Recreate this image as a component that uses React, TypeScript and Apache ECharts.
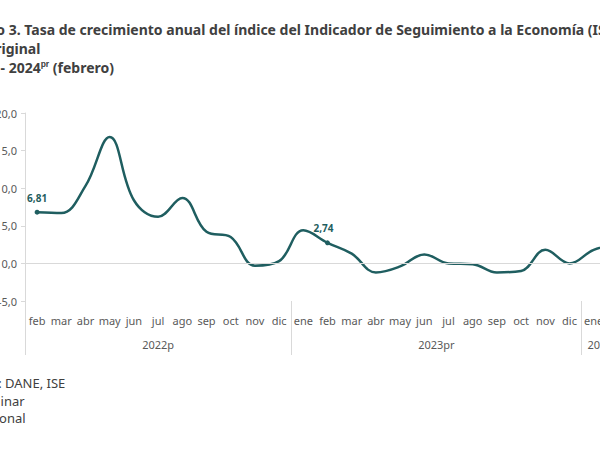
import React, { useEffect, useRef } from "react";
import * as echarts from "echarts";

const months = [
  "feb", "mar", "abr", "may", "jun", "jul", "ago", "sep", "oct", "nov", "dic",
  "ene", "feb", "mar", "abr", "may", "jun", "jul", "ago", "sep", "oct", "nov", "dic",
  "ene", "feb",
];
const values = [
  6.81, 6.7, 10.3, 16.8, 8.4, 6.2, 8.7, 4.2, 3.5, -0.3, 0.3,
  4.4, 2.74, 1.3, -1.2, -0.4, 1.2, 0.0, -0.1, -1.2, -1.0, 1.8, 0.0,
  1.8, 2.5,
];
const labeledIndices = [0, 12];
const yearLabels = ["2022p", "2023pr", "2024pr"];
const yearSizes = [11, 12, 2];
const yTicks = { min: -5, max: 20, interval: 5 };

const titleLines = [
  "Gráfico 3. Tasa de crecimiento anual del índice del Indicador de Seguimiento a la Economía (ISE)",
  "Serie original",
  "2022p - 2024{sup|pr} (febrero)",
];
const footLines = ["Fuente: DANE, ISE", "pr: preliminar", "p: provisional"];

const FONT = "'Noto Sans', 'Open Sans', sans-serif";
const TEAL = "#1F5E60";
const GRAY = "#D9D9D9";
const TXT = "#595959";

export default function App() {
  const ref = useRef<HTMLDivElement>(null);
  useEffect(() => {
    if (!ref.current) return;
    const chart = echarts.init(ref.current, null, { renderer: "svg" });

    // half-month slots for the year axis
    const slots: string[] = new Array(months.length * 2 + 1).fill("");
    const boundaries: number[] = [0];
    let b = 0;
    yearSizes.forEach((s, i) => {
      slots[b + s] = yearLabels[i];
      b += s * 2;
      boundaries.push(b);
    });

    const seriesData = values.map((v, i) =>
      labeledIndices.includes(i)
        ? {
            value: v,
            symbol: "circle",
            symbolSize: 5,
            label: {
              show: true,
              position: "top",
              offset: i === 0 ? [0, -2] : [-4, -2],
              formatter: (p: any) => p.value.toFixed(2).replace(".", ","),
              color: TEAL,
              fontWeight: "bold",
              fontSize: 10,
              fontFamily: FONT,
            },
          }
        : { value: v, symbol: "none" }
    );

    const graphics: any[] = [];
    const tY = [29, 48, 67];
    const tX = [-3, -10, -2];
    titleLines.forEach((t, i) => {
      graphics.push({
        type: "text",
        x: tX[i],
        y: tY[i],
        style: {
          text: t,
          fontFamily: FONT,
          fontWeight: "bold",
          fontSize: 14,
          fill: "#404040",
          verticalAlign: "middle",
          rich: {
            sup: { fontSize: 8.5, fontWeight: "bold", fill: "#404040", verticalAlign: "top", padding: [0, 0, 6, 0] },
          },
        },
      });
    });
    const fY = [383, 401, 418];
    const fX = [-2, -17, -14];
    footLines.forEach((t, i) => {
      graphics.push({
        type: "text",
        x: fX[i],
        y: fY[i],
        style: { text: t, fontFamily: FONT, fontSize: 13, fill: "#404040", verticalAlign: "middle" },
      });
    });

    chart.setOption({
      animation: false,
      backgroundColor: "#ffffff",
      grid: { left: 67, width: 605, top: 113, height: 188 },
      xAxis: [
        {
          type: "category",
          data: months,
          boundaryGap: true,
          position: "bottom",
          axisLine: { show: false },
          axisTick: { show: false },
          axisLabel: { interval: 0, margin: 14, fontSize: 11, color: TXT, fontFamily: FONT },
        },
        {
          type: "category",
          data: slots,
          boundaryGap: false,
          position: "bottom",
          axisLine: { show: false },
          axisTick: {
            show: true,
            length: 54,
            interval: (idx: number) => boundaries.includes(idx),
            lineStyle: { color: GRAY },
          },
          axisLabel: { interval: 0, margin: 38, fontSize: 11, color: TXT, fontFamily: FONT },
        },
      ],
      yAxis: {
        type: "value",
        min: yTicks.min,
        max: yTicks.max,
        interval: yTicks.interval,
        axisLine: { show: true, lineStyle: { color: GRAY } },
        axisTick: { show: true, length: 4, lineStyle: { color: GRAY } },
        splitLine: { show: false },
        axisLabel: {
          margin: 8,
          fontSize: 11,
          color: TXT,
          fontFamily: FONT,
          formatter: (v: number) => v.toFixed(1).replace(".", ","),
        },
      },
      graphic: graphics,
      series: [
        {
          type: "line",
          xAxisIndex: 0,
          data: seriesData,
          smooth: 0.4,
          lineStyle: { color: TEAL, width: 2.5 },
          itemStyle: { color: TEAL },
          markLine: {
            silent: true,
            symbol: ["none", "none"],
            label: { show: false },
            lineStyle: { color: GRAY, type: "solid", width: 1 },
            data: [{ yAxis: 0 }],
          },
        },
      ],
    });
    return () => chart.dispose();
  }, []);

  return (
    <div style={{ position: "absolute", left: 0, top: 0, width: 600, height: 450, overflow: "hidden", background: "#fff" }}>
      <div ref={ref} style={{ position: "absolute", left: -42, top: 0, width: 720, height: 450 }} />
    </div>
  );
}
